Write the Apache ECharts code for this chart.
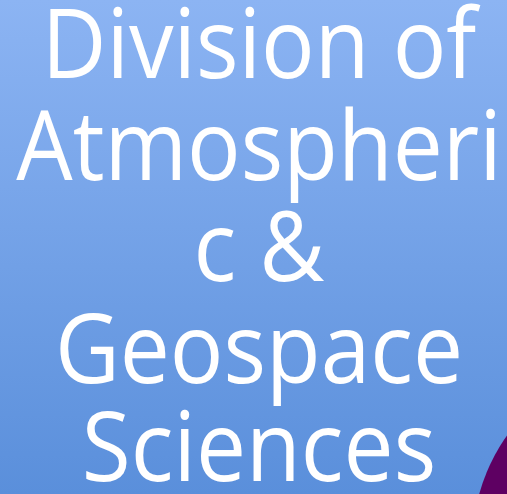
<!DOCTYPE html>
<html>
<head>
<meta charset="utf-8">
<script src="https://cdn.jsdelivr.net/npm/echarts@6/dist/echarts.min.js"></script>
<style>
  html, body { margin: 0; padding: 0; }
  #main { width: 507px; height: 494px; }
</style>
</head>
<body>
<div id="main"></div>
<script>
// title lines as they wrap on the slide
const titleLines = ['Division of', 'Atmospheri', 'c &', 'Geospace', 'Sciences'];
// baseline of each line, px
const lineBaselines = [80, 182, 283, 385, 483];

var chart = echarts.init(document.getElementById('main'));

var elements = [
  {
    type: 'rect',
    shape: { x: 0, y: 0, width: 507, height: 494 },
    style: {
      fill: new echarts.graphic.LinearGradient(0, 0, 0, 1, [
        { offset: 0, color: '#8cb4f3' },
        { offset: 1, color: '#5a8fdb' }
      ])
    }
  },
  {
    type: 'circle',
    shape: { cx: 664, cy: 546, r: 192 },
    style: { fill: '#5e0062' }
  }
];

titleLines.forEach(function (line, i) {
  elements.push({
    type: 'text',
    x: 259,
    y: lineBaselines[i] - 78,
    scaleX: 0.92,
    style: {
      text: line,
      fill: '#ffffff',
      font: '97px "Open Sans"',
      textAlign: 'center',
      textVerticalAlign: 'top'
    }
  });
});

chart.setOption({
  animation: false,
  graphic: { elements: elements }
});
</script>
</body>
</html>
